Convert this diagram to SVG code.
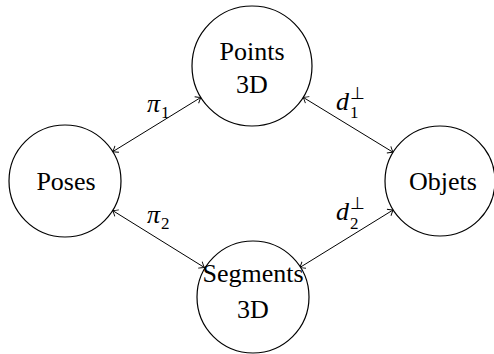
<svg xmlns="http://www.w3.org/2000/svg" width="494" height="354" viewBox="0 0 494 354">
<style>
.node circle{fill:#fff;stroke:#000;stroke-width:1.2}
text{font-family:'Liberation Serif','Times New Roman',serif;fill:#000}
.lbl{font-size:26px;text-anchor:middle}
.m{font-size:26px;font-style:italic}
.s{font-size:17px}
.edge{stroke:#000;stroke-width:1;fill:none;marker-start:url(#ar);marker-end:url(#ar)}
</style>
<defs>
<marker id="ar" viewBox="-6 -5 7 10" refX="0" refY="0" markerWidth="7" markerHeight="10" markerUnits="userSpaceOnUse" orient="auto-start-reverse">
<path d="M-5,-3.8 Q-1.5,-0.8 0,0 Q-1.5,0.8 -5,3.8" fill="none" stroke="#000" stroke-width="0.9"/>
</marker>
</defs>
<g id="connectors">
<line class="edge" x1="112.7" y1="151.7" x2="200.9" y2="97.4"/>
<line class="edge" x1="303.1" y1="97.3" x2="393.1" y2="152.3"/>
<line class="edge" x1="112.6" y1="210.5" x2="204.4" y2="267.5"/>
<line class="edge" x1="299.7" y1="267.6" x2="393.2" y2="209.9"/>
</g>
<g id="points3d" class="node">
<circle cx="252" cy="66" r="60"/>
<text class="lbl" x="252" y="60">Points</text>
<text class="lbl" x="252" y="93">3D</text>
</g>
<g id="poses" class="node">
<circle cx="65" cy="181" r="56"/>
<text class="lbl" x="66" y="190">Poses</text>
</g>
<g id="objets" class="node">
<circle cx="440" cy="181" r="55"/>
<text class="lbl" x="443" y="190">Objets</text>
</g>
<g id="segments3d" class="node">
<circle cx="253" cy="297" r="56"/>
<text class="lbl" x="253" y="282">Segments</text>
<text class="lbl" x="253" y="318">3D</text>
</g>
<g id="labels">
<text class="m" x="147" y="112">π</text><text class="s" x="161" y="118">1</text>
<text class="m" x="147" y="223">π</text><text class="s" x="161" y="229">2</text>
<text class="m" x="336" y="110">d</text><text class="s" x="350" y="99">⊥</text><text class="s" x="350" y="118">1</text>
<text class="m" x="336" y="220">d</text><text class="s" x="350" y="209">⊥</text><text class="s" x="350" y="229">2</text>
</g>
</svg>
